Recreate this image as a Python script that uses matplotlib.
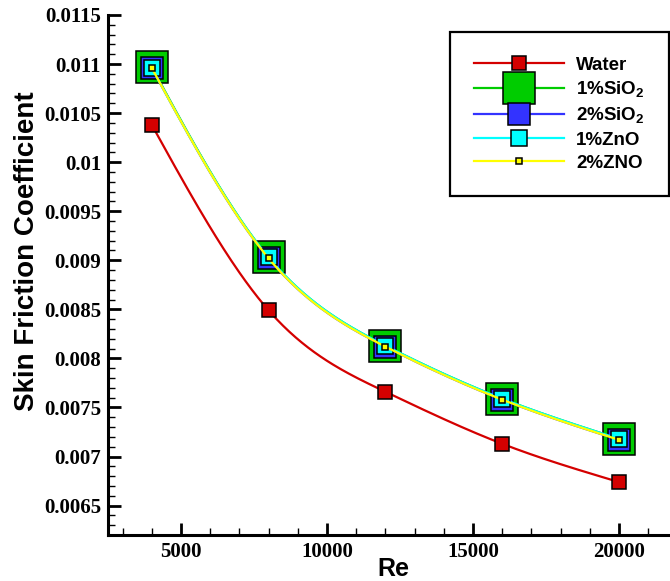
import numpy as np
import matplotlib
matplotlib.use("Agg")
import matplotlib.pyplot as plt
from matplotlib.lines import Line2D
from matplotlib.ticker import MultipleLocator, FuncFormatter

# Data
re_vals = [4000, 8000, 12000, 16000, 20000]
water = [0.01038, 0.00849, 0.00766, 0.00713, 0.00674]
sio2_1 = [0.01097, 0.00903, 0.00813, 0.00759, 0.00718]
sio2_2 = [0.01096, 0.00902, 0.00812, 0.00758, 0.00717]
zno_1 = [0.01096, 0.00903, 0.00813, 0.00759, 0.00718]
zno_2 = [0.01096, 0.00902, 0.00812, 0.00758, 0.00717]

labels = ["Water", r"1%SiO$_{\mathbf{2}}$", r"2%SiO$_{\mathbf{2}}$", "1%ZnO", "2%ZNO"]
series = [water, sio2_1, sio2_2, zno_1, zno_2]
colors = ["#d40000", "#00cc00", "#3333ff", "#00ffff", "#ffff00"]
msizes = [10, 23, 16, 11.5, 4.3]

plt.rcParams["font.family"] = "Liberation Serif"
plt.rcParams["font.weight"] = "bold"
plt.rcParams["font.size"] = 15
plt.rcParams["mathtext.fontset"] = "custom"
plt.rcParams["mathtext.rm"] = "Liberation Sans:bold"
plt.rcParams["mathtext.bf"] = "Liberation Sans:bold"


def spline(x, y, n=300):
    # natural cubic spline, only used to draw the smooth curve
    x = np.asarray(x, float)
    y = np.asarray(y, float)
    k = len(x)
    h = np.diff(x)
    A = np.zeros((k, k))
    b = np.zeros(k)
    A[0, 0] = A[-1, -1] = 1
    for i in range(1, k - 1):
        A[i, i - 1] = h[i - 1]
        A[i, i] = 2 * (h[i - 1] + h[i])
        A[i, i + 1] = h[i]
        b[i] = 6 * ((y[i + 1] - y[i]) / h[i] - (y[i] - y[i - 1]) / h[i - 1])
    M = np.linalg.solve(A, b)
    xs = np.linspace(x[0], x[-1], n)
    idx = np.clip(np.searchsorted(x, xs) - 1, 0, k - 2)
    x0, x1 = x[idx], x[idx + 1]
    hh = x1 - x0
    t0, t1 = x1 - xs, xs - x0
    ys = (M[idx] * t0 ** 3 + M[idx + 1] * t1 ** 3) / (6 * hh) \
        + (y[idx] / hh - M[idx] * hh / 6) * t0 \
        + (y[idx + 1] / hh - M[idx + 1] * hh / 6) * t1
    return xs, ys


fig = plt.figure(figsize=(6.7, 5.81), dpi=100)
ax = fig.add_axes([108 / 670, 46 / 581, 562 / 670, 520 / 581])

handles = []
for i, (vals, c, ms, lab) in enumerate(zip(series, colors, msizes, labels)):
    xs, ys = spline(re_vals, vals)
    ax.plot(xs, ys, color=c, lw=1.6, zorder=2 + 2 * i)
    ax.plot(re_vals, vals, ls="none", marker="s", ms=ms, mfc=c, mec="black",
            mew=1.1, zorder=3 + 2 * i)
    handles.append(Line2D([], [], color=c, lw=1.6, marker="s", ms=ms, mfc=c,
                          mec="black", mew=1.1, label=lab))

ax.set_xlim(2500, 21750)
ax.set_ylim(0.0062, 0.0115)

ax.spines["top"].set_visible(False)
ax.spines["right"].set_visible(False)
ax.spines["left"].set_linewidth(2.2)
ax.spines["bottom"].set_linewidth(2.2)

ax.xaxis.set_major_locator(MultipleLocator(5000))
ax.xaxis.set_minor_locator(MultipleLocator(1000))
ax.yaxis.set_major_locator(MultipleLocator(0.0005))
ax.yaxis.set_minor_locator(MultipleLocator(0.0001))
fmt = FuncFormatter(lambda v, p: "%g" % v)
ax.xaxis.set_major_formatter(fmt)
ax.yaxis.set_major_formatter(fmt)

ax.tick_params(which="major", direction="in", length=9, width=2, pad=5)
ax.tick_params(which="minor", direction="in", length=5, width=1)
ax.tick_params(top=False, right=False, which="both")

ax.set_xlabel("Re", fontfamily="Liberation Sans", fontweight="bold", fontsize=18)
ax.set_ylabel("Skin Friction Coefficient", fontfamily="Liberation Sans",
              fontweight="bold", fontsize=20)
ax.xaxis.set_label_coords(0.507, -0.042)
ax.yaxis.set_label_coords(-0.121, 0.546)

leg = ax.legend(handles=handles, loc="upper right",
                bbox_to_anchor=(669 / 670, 1 - 32 / 581),
                bbox_transform=fig.transFigure, borderaxespad=0,
                prop={"family": "Liberation Sans", "weight": "bold", "size": 13.5},
                handlelength=4.8, handletextpad=0.65, borderpad=1.3,
                labelspacing=0.31, fancybox=False, framealpha=1,
                edgecolor="black")
leg.get_frame().set_linewidth(1.6)

fig.savefig("out.png", dpi=100)
